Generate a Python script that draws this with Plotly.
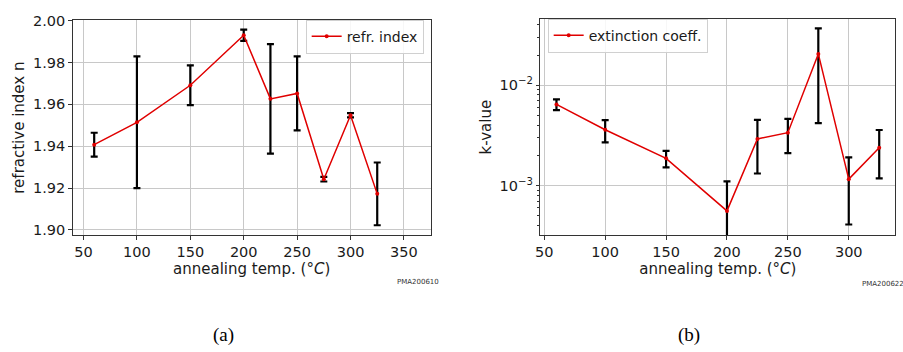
import plotly.graph_objects as go

W, H = 903, 352

temps = [60, 100, 150, 200, 225, 250, 275, 300, 325]
n_vals = [1.9407, 1.9514, 1.9691, 1.9930, 1.9626, 1.9652, 1.9242, 1.9548, 1.9172]
n_err = [0.0057, 0.0315, 0.0095, 0.0027, 0.0262, 0.0177, 0.0011, 0.0010, 0.0150]
k_vals = [6.44e-3, 3.6e-3, 1.87e-3, 5.6e-4, 2.92e-3, 3.37e-3, 2.05e-2, 1.16e-3, 2.38e-3]
k_err = [0.8e-3, 0.9e-3, 0.35e-3, 0.54e-3, 1.6e-3, 1.26e-3, 1.63e-2, 0.75e-3, 1.2e-3]

x_ticks_a = [50, 100, 150, 200, 250, 300, 350]
x_ticks_b = [50, 100, 150, 200, 250, 300]
y_ticks_a = [1.90, 1.92, 1.94, 1.96, 1.98, 2.00]
y_ticks_b = [1e-3, 1e-2]
y_ticktext_b = ["10<sup>\u22123</sup>", "10<sup>\u22122</sup>"]
y_minor_b = [m * 10 ** e for e in (-4, -3, -2) for m in range(2, 10) if 3e-4 < m * 10 ** e < 5e-2]

RED = "#e00000"
SANS = "DejaVu Sans"
TXT = "#1a1a1a"

fig = go.Figure()

# left panel
fig.add_trace(go.Scatter(x=temps, y=n_vals, mode="markers", marker=dict(size=0.1, color="rgba(0,0,0,0)"),
                         error_y=dict(type="data", array=n_err, visible=True, color="black", thickness=2.2, width=3.5),
                         showlegend=False, xaxis="x", yaxis="y", hoverinfo="skip"))
fig.add_trace(go.Scatter(x=temps, y=n_vals, mode="lines+markers", name="refr. index",
                         line=dict(color=RED, width=1.5), marker=dict(size=4, color=RED),
                         xaxis="x", yaxis="y", legend="legend"))
# right panel
fig.add_trace(go.Scatter(x=temps, y=k_vals, mode="markers", marker=dict(size=0.1, color="rgba(0,0,0,0)"),
                         error_y=dict(type="data", array=k_err, visible=True, color="black", thickness=2.2, width=3.5),
                         showlegend=False, xaxis="x2", yaxis="y2", hoverinfo="skip"))
fig.add_trace(go.Scatter(x=temps, y=k_vals, mode="lines+markers", name="extinction coeff.",
                         line=dict(color=RED, width=1.5), marker=dict(size=4, color=RED),
                         xaxis="x2", yaxis="y2", legend="legend2"))

axcommon = dict(showline=True, linecolor="#333333", linewidth=1, mirror=True,
                showgrid=True, gridcolor="#c8c8c8", gridwidth=0.8,
                ticks="outside", ticklen=3.5, tickwidth=0.8, tickcolor="#333333",
                tickfont=dict(family=SANS, size=14.5, color=TXT), zeroline=False)

xt = dict(text="annealing temp. (\u00b0<i>C</i>)", font=dict(family=SANS, size=15, color=TXT), standoff=2)

fig.update_layout(
    width=W, height=H, margin=dict(l=0, r=0, t=0, b=0),
    paper_bgcolor="white", plot_bgcolor="white",
    xaxis=dict(domain=[68 / W, 428 / W], range=[39.8, 375], tickvals=x_ticks_a, anchor="y",
               title=xt, **axcommon),
    yaxis=dict(domain=[1 - 234.3 / H, 1 - 13.3 / H], range=[1.8974, 2.0003], tickvals=y_ticks_a,
               tickformat=".2f", anchor="x",
               title=dict(text="refractive index n", font=dict(family=SANS, size=15, color=TXT), standoff=4),
               **axcommon),
    xaxis2=dict(domain=[538.3 / W, 895.3 / W], range=[46.75, 338.25], tickvals=x_ticks_b, anchor="y2",
                title=xt, **axcommon),
    yaxis2=dict(domain=[1 - 234.3 / H, 1 - 12.3 / H], type="log", range=[-3.495, -1.34],
                tickvals=y_ticks_b, ticktext=y_ticktext_b, anchor="x2",
                minor=dict(tickmode="array", tickvals=y_minor_b, ticks="outside", ticklen=2,
                           tickwidth=0.6, tickcolor="#333333", showgrid=False),
                title=dict(text="k-value", font=dict(family=SANS, size=15, color=TXT), standoff=4),
                **axcommon),
    legend=dict(x=421 / W, y=1 - 13 / H, xanchor="right", yanchor="top",
                bgcolor="rgba(255,255,255,0.85)", bordercolor="#d0d0d0", borderwidth=1,
                font=dict(family=SANS, size=14, color=TXT), tracegroupgap=0),
    legend2=dict(x=545.7 / W, y=1 - 12 / H, xanchor="left", yanchor="top",
                 bgcolor="rgba(255,255,255,0.85)", bordercolor="#d0d0d0", borderwidth=1,
                 font=dict(family=SANS, size=14, color=TXT), tracegroupgap=0),
    annotations=[
        dict(text="PMA200610", x=415 / W, y=1 - 282 / H, xref="paper", yref="paper",
             showarrow=False, font=dict(family=SANS, size=7, color="#333333"), xanchor="center", yanchor="middle"),
        dict(text="PMA200622", x=860 / W, y=1 - 284 / H, xref="paper", yref="paper",
             showarrow=False, font=dict(family=SANS, size=7, color="#333333"), xanchor="left", yanchor="middle"),
        dict(text="(a)", x=220 / W, y=1 - 336.5 / H, xref="paper", yref="paper",
             showarrow=False, font=dict(family="Liberation Serif", size=19, color="black"),
             xanchor="center", yanchor="middle"),
        dict(text="(b)", x=688 / W, y=1 - 336.5 / H, xref="paper", yref="paper",
             showarrow=False, font=dict(family="Liberation Serif", size=19, color="black"),
             xanchor="center", yanchor="middle"),
    ],
)

fig.write_html("out.html")
